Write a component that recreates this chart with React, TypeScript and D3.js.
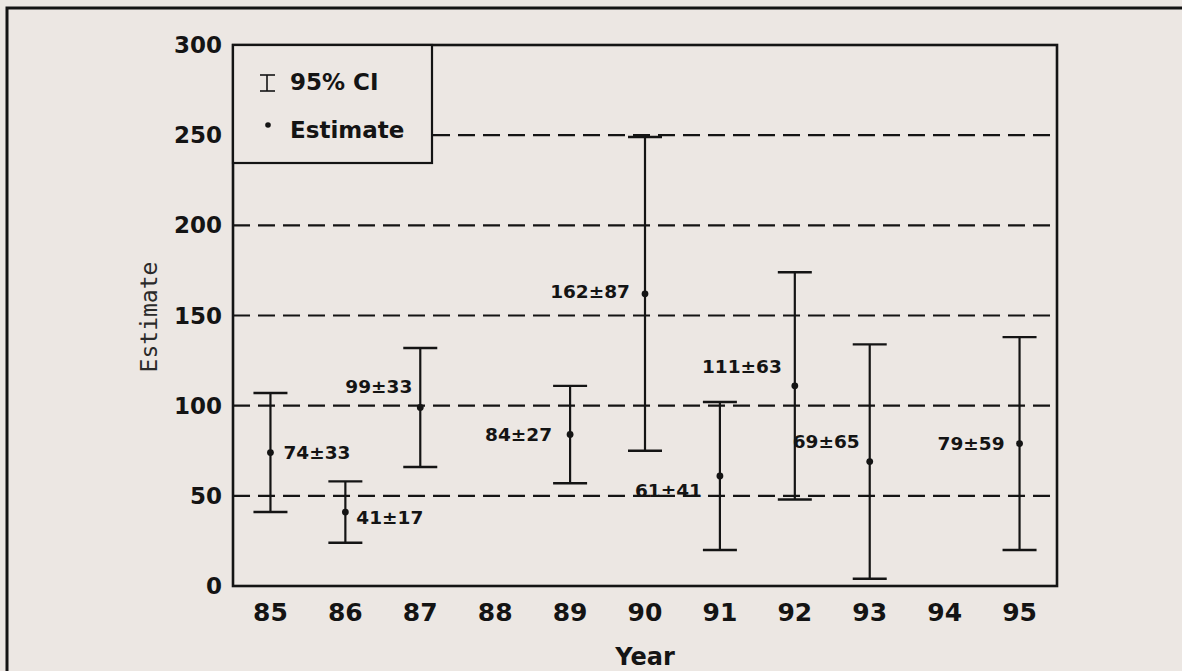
import * as d3 from "d3";

const years = [85, 86, 87, 89, 90, 91, 92, 93, 95];
const estimates = [74, 41, 99, 84, 162, 61, 111, 69, 79];
const halfWidths = [33, 17, 33, 27, 87, 41, 63, 65, 59];
const xTicks = [85, 86, 87, 88, 89, 90, 91, 92, 93, 94, 95];
const yTicks = [0, 50, 100, 150, 200, 250, 300];
const gridValues = [50, 100, 150, 200, 250];

// label placement nudges (px): side of the bar and vertical shift from the point
const labelSide = ["right", "right", "left", "left", "left", "left", "left", "left", "left"];
const labelDy = [0, 5, -21, 0, -2, 15, -19, -20, 0];
const labelGap = [13, 11, 8, 18, 15, 18, 13, 10, 15];

const W = 1182;
const H = 671;
const plot = { left: 233, right: 1057, top: 45, bottom: 586 };
const ink = "#141414";
const bg = "#ece7e3";
const bold = "'DejaVu Sans', sans-serif";

const App = () => {
  const x = d3.scaleLinear().domain([84.5, 95.5]).range([plot.left, plot.right]);
  const y = d3.scaleLinear().domain([0, 300]).range([plot.bottom, plot.top]);
  const cap = 17;

  return (
    <svg
      width={W}
      height={H}
      viewBox={`0 0 ${W} ${H}`}
      style={{ position: "absolute", left: 0, top: 0, display: "block" }}
    >
      <rect width={W} height={H} fill={bg} />
      {/* outer frame, runs off the right and bottom edges */}
      <rect x={7} y={8} width={W + 20} height={H + 20} fill="none" stroke={ink} strokeWidth={3} />

      {gridValues.map((v) => (
        <line
          key={v}
          x1={plot.left}
          x2={plot.right}
          y1={y(v)}
          y2={y(v)}
          stroke={ink}
          strokeWidth={2.2}
          strokeDasharray="17 8"
        />
      ))}

      <rect
        x={plot.left}
        y={plot.top}
        width={plot.right - plot.left}
        height={plot.bottom - plot.top}
        fill="none"
        stroke={ink}
        strokeWidth={2.6}
      />

      {yTicks.map((t) => (
        <text
          key={t}
          x={plot.left - 11}
          y={y(t)}
          textAnchor="end"
          dominantBaseline="central"
          fontFamily={bold}
          fontWeight="bold"
          fontSize={23}
          fill={ink}
        >
          {t}
        </text>
      ))}

      {xTicks.map((t) => (
        <text
          key={t}
          x={x(t)}
          y={621}
          textAnchor="middle"
          fontFamily={bold}
          fontWeight="bold"
          fontSize={25}
          fill={ink}
        >
          {t}
        </text>
      ))}

      <text
        x={(plot.left + plot.right) / 2}
        y={665}
        textAnchor="middle"
        fontFamily={bold}
        fontWeight="bold"
        fontSize={24}
        fill={ink}
      >
        Year
      </text>
      <text
        transform="translate(149,317) rotate(-90)"
        textAnchor="middle"
        dominantBaseline="central"
        fontFamily="'DejaVu Sans Mono', monospace"
        fontSize={23}
        fill="#2a2a2a"
      >
        Estimate
      </text>

      {years.map((yr, i) => {
        const cx = x(yr);
        const lo = y(estimates[i] - halfWidths[i]);
        const hi = y(estimates[i] + halfWidths[i]);
        const py = y(estimates[i]);
        const right = labelSide[i] === "right";
        return (
          <g key={yr}>
            <line x1={cx} x2={cx} y1={lo} y2={hi} stroke={ink} strokeWidth={2.2} />
            <line x1={cx - cap} x2={cx + cap} y1={hi} y2={hi} stroke={ink} strokeWidth={2.4} />
            <line x1={cx - cap} x2={cx + cap} y1={lo} y2={lo} stroke={ink} strokeWidth={2.4} />
            <circle cx={cx} cy={py} r={3.4} fill={ink} />
            <text
              x={right ? cx + labelGap[i] : cx - labelGap[i]}
              y={py + labelDy[i]}
              textAnchor={right ? "start" : "end"}
              dominantBaseline="central"
              fontFamily={bold}
              fontWeight="bold"
              fontSize={18.5}
              fill={ink}
            >
              {`${estimates[i]}±${halfWidths[i]}`}
            </text>
          </g>
        );
      })}

      {/* legend */}
      <g>
        <rect x={plot.left} y={plot.top} width={199} height={118} fill={bg} stroke={ink} strokeWidth={2.2} />
        <line x1={267} x2={267} y1={75} y2={91} stroke={ink} strokeWidth={1.6} />
        <line x1={260} x2={275} y1={75} y2={75} stroke={ink} strokeWidth={1.6} />
        <line x1={260} x2={275} y1={91} y2={91} stroke={ink} strokeWidth={1.6} />
        <text x={290} y={90} fontFamily={bold} fontWeight="bold" fontSize={23} fill={ink}>
          95% CI
        </text>
        <circle cx={268} cy={125} r={2.8} fill={ink} />
        <text x={290} y={138} fontFamily={bold} fontWeight="bold" fontSize={23} fill={ink}>
          Estimate
        </text>
      </g>
    </svg>
  );
};

export default App;
